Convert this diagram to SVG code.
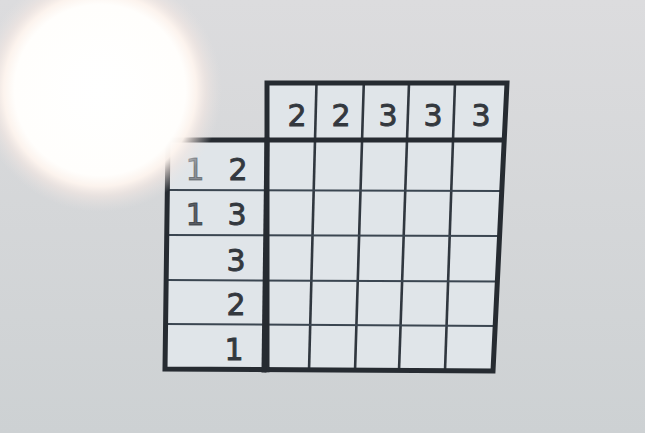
<svg xmlns="http://www.w3.org/2000/svg" width="645" height="433" viewBox="0 0 645 433">
  <defs>
    <linearGradient id="bg" x1="0" y1="0" x2="0" y2="1">
      <stop offset="0" stop-color="#dcdcde"/>
      <stop offset="1" stop-color="#cdd1d3"/>
    </linearGradient>
    <radialGradient id="flare" cx="100" cy="90" r="122" gradientUnits="userSpaceOnUse">
      <stop offset="0" stop-color="#ffffff" stop-opacity="1"/>
      <stop offset="0.70" stop-color="#fffefc" stop-opacity="1"/>
      <stop offset="0.79" stop-color="#fdf4ee" stop-opacity="0.97"/>
      <stop offset="0.87" stop-color="#f4e8e3" stop-opacity="0.6"/>
      <stop offset="1" stop-color="#e8e3e2" stop-opacity="0"/>
    </radialGradient>
    <style>
      .cell { fill: #e0e5e9; }
      .thick { stroke: #262b31; stroke-width: 5; fill: none; stroke-linecap: square; }
      .thin { stroke: #3b4651; stroke-width: 2; fill: none; }
      .mid { stroke: #30373f; stroke-width: 2.6; fill: none; }
      .num { font-family: "DejaVu Sans", "Verdana", sans-serif; font-size: 30px; fill: #33383e; stroke: #33383e; stroke-width: 0.9; text-anchor: middle; }
    </style>
  </defs>
  <rect x="0" y="0" width="645" height="433" fill="url(#bg)"/>

  <g id="board">
    <polygon class="cell" points="267,83 507,83 504,140 267,140"/>
    <polygon class="cell" points="168,140 504,140 493,371 165,370"/>

    <g id="grid-lines">
      <line class="mid" x1="316.5" y1="83" x2="309" y2="371"/>
      <line class="mid" x1="363.8" y1="83" x2="355" y2="371"/>
      <line class="mid" x1="409" y1="83" x2="399" y2="371"/>
      <line class="mid" x1="455" y1="83" x2="445" y2="371"/>
      <line class="thin" x1="167" y1="190" x2="502" y2="191"/>
      <line class="thin" x1="166.5" y1="235" x2="500" y2="236"/>
      <line class="thin" x1="166" y1="280" x2="497.5" y2="281.5"/>
      <line class="thin" x1="165.5" y1="324" x2="495.3" y2="326"/>
    </g>

    <g id="outline">
      <polyline class="thick" points="267,370 267,83 507,83 493,371 165,369 168,140 504,140"/>
      <line class="thick" x1="267" y1="140" x2="264" y2="370"/>
    </g>

    <g id="column-clues">
      <text class="num" x="297" y="126">2</text>
      <text class="num" x="341" y="126">2</text>
      <text class="num" x="388" y="126">3</text>
      <text class="num" x="433" y="126">3</text>
      <text class="num" x="481" y="126">3</text>
    </g>

    <g id="row-clues">
      <text class="num" x="195" y="180" fill-opacity="0.5" stroke-opacity="0.5">1</text>
      <text class="num" x="238" y="180">2</text>
      <text class="num" x="195" y="225" fill-opacity="0.8" stroke-opacity="0.8">1</text>
      <text class="num" x="237" y="225">3</text>
      <text class="num" x="236" y="271">3</text>
      <text class="num" x="236" y="315">2</text>
      <text class="num" x="234" y="360">1</text>
    </g>
  </g>

  <circle id="glare" cx="100" cy="90" r="122" fill="url(#flare)"/>
</svg>
